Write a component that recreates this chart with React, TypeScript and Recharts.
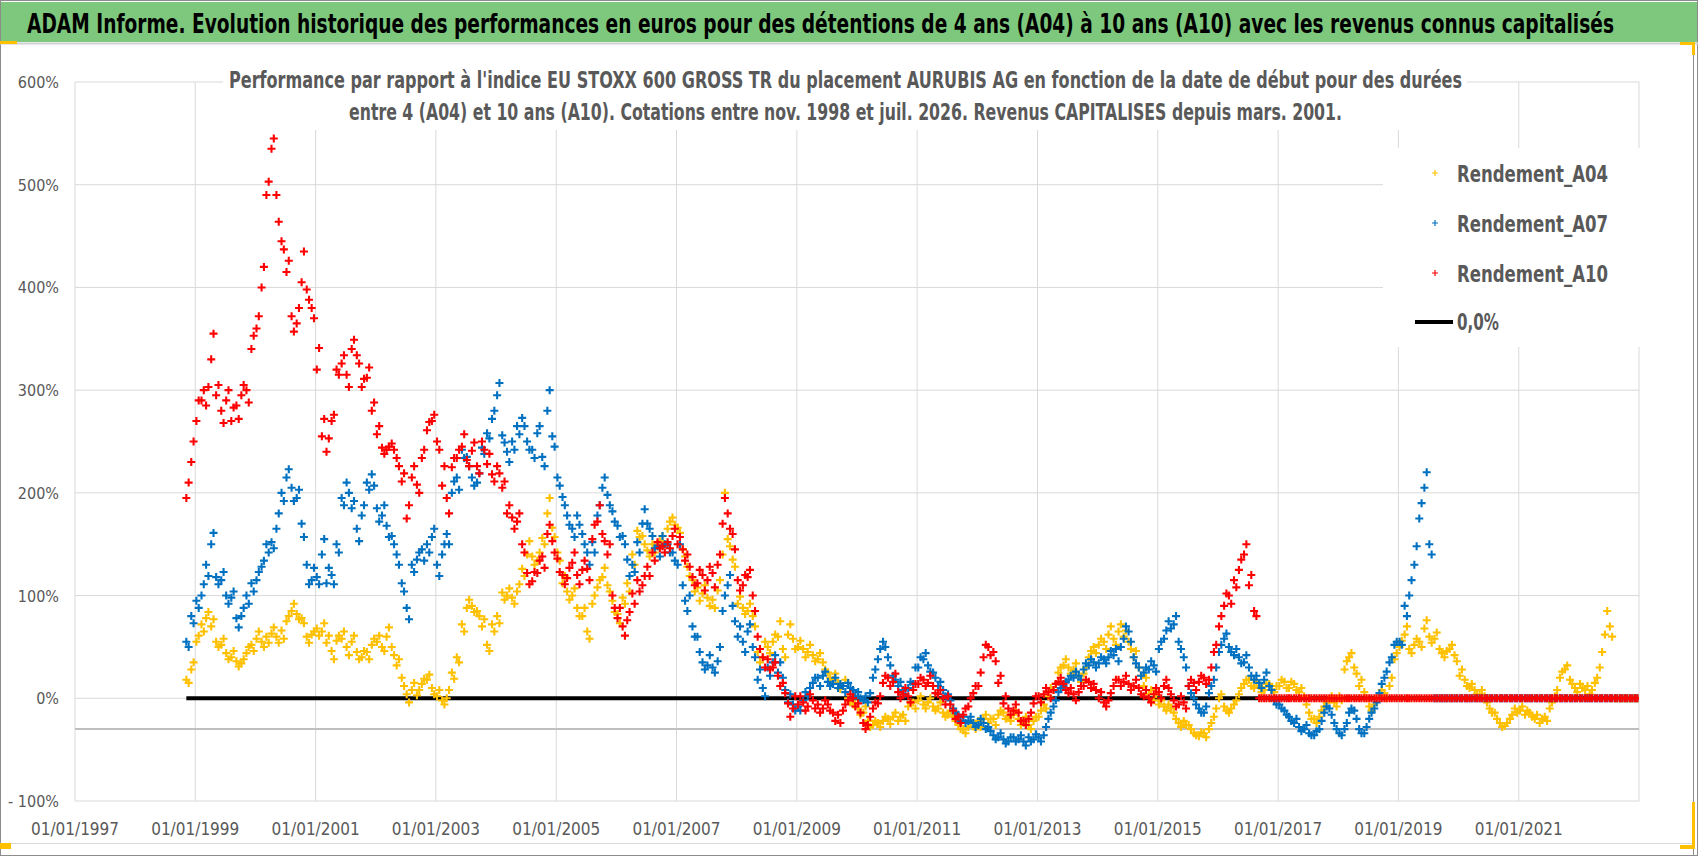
import React from "react";
import {
  ScatterChart,
  Scatter,
  XAxis,
  YAxis,
  CartesianGrid,
  ReferenceLine,
} from "recharts";

// Rendements (en %), deux lectures par mois
// (début et fin de mois) depuis nov. 1998 jusqu'à déc. 2022.
// Les 0 en fin de série : durée pas encore écoulée.
const rendementA04 = [
  18, 28,
  55, 72, 78, 70, 55, 52, 44, 40, 36, 34, 44, 52, // 1999
  58, 55, 60, 63, 60, 66, 75, 85, 82, 78, 60, 62, // 2000
  68, 65, 54, 46, 56, 58, 50, 55, 45, 40, 45, 52, // 2001
  55, 50, 60, 50, 32, 20, 4, 8, 3, 14, 18, 10, // 2002
  2, -2, 0, 25, 40, 72, 88, 90, 85, 70, 52, 72, // 2003
  80, 103, 100, 98, 104, 126, 140, 138, 134, 156, 180, 166, // 2004
  142, 112, 104, 100, 88, 80, 65, 92, 108, 118, 110, 95, // 2005
  82, 98, 112, 140, 163, 158, 144, 150, 148, 158, 165, 176, // 2006
  166, 145, 128, 115, 108, 102, 98, 96, 105, 140, 155, 135, // 2007
  92, 88, 85, 80, 45, 40, 50, 55, 60, 48, 62, 58, // 2008
  50, 48, 45, 42, 38, 35, 25, 18, 15, 12, 0, -6, // 2009
  -10, -14, -22, -26, -24, -22, -20, -18, -22, -16, -8, -4, // 2010
  -2, -6, -4, -8, -10, -14, -16, -18, -26, -30, -28, -24, // 2011
  -22, -20, -24, -20, -16, -14, -18, -16, -20, -24, -26, -22, // 2012
  -18, -6, 2, 8, 25, 32, 30, 28, 22, 24, 40, 50, // 2013
  52, 55, 62, 58, 65, 60, 55, 40, 30, 12, 4, -2, // 2014
  -6, -8, -6, -14, -24, -22, -26, -34, -37, -34, -30, -18, // 2015
  0, -8, -14, -6, 4, 14, 18, 10, 12, 8, 14, 6, // 2016
  12, 16, 10, 14, 6, 2, -14, -20, -18, -8, -2, -4, // 2017
  2, 28, 40, 30, 12, 6, -8, -6, 2, 5, 12, 38, // 2018
  50, 62, 48, 52, 55, 68, 60, 58, 48, 40, 48, 42, // 2019
  22, 18, 10, 8, 4, 2, -10, -14, -24, -27, -20, -10, // 2020
  -12, -16, -14, -20, -24, -18, -10, 2, 20, 28, 18, 10, // 2021
  14, 8, 4, 15, 30, 62, 70, 0, 0, 0, 0, 0, // 2022
];
const rendementA04Fin = [
  15, 35,
  61, 65, 84, 77, 50, 58, 38, 46, 31, 38, 50, 46, // 1999
  65, 50, 54, 69, 54, 58, 80, 92, 77, 73, 54, 65, // 2000
  61, 73, 61, 38, 61, 65, 42, 61, 38, 46, 38, 58, // 2001
  61, 46, 69, 42, 38, 12, -4, 15, 8, 19, 23, 4, // 2002
  8, -6, 8, 19, 35, 65, 96, 84, 80, 77, 46, 65, // 2003
  73, 96, 107, 92, 111, 119, 153, 130, 142, 150, 195, 157, // 2004
  134, 119, 96, 107, 80, 88, 58, 100, 115, 127, 104, 84, // 2005
  73, 92, 104, 130, 157, 150, 138, 142, 153, 150, 172, 169, // 2006
  161, 138, 119, 104, 95, 110, 90, 88, 115, 200, 148, 128, // 2007
  99, 82, 92, 70, 35, 55, 44, 62, 75, 40, 72, 48, // 2008
  56, 40, 52, 36, 44, 28, 20, 24, 9, 18, -4, 0, // 2009
  -16, -8, -28, -22, -28, -18, -25, -14, -18, -22, -4, -10, // 2010
  2, -10, 0, -12, -4, -18, -12, -22, -30, -34, -24, -30, // 2011
  -28, -16, -20, -26, -12, -20, -22, -12, -26, -18, -30, -18, // 2012
  -12, -10, 10, 14, 30, 38, 24, 34, 16, 30, 46, 44, // 2013
  58, 48, 70, 52, 72, 66, 48, 46, 22, 20, 8, 4, // 2014
  -2, -12, -10, -20, -28, -26, -30, -36, -33, -38, -24, -10, // 2015
  4, -12, -10, -2, 10, 18, 12, 16, 6, 14, 8, 12, // 2016
  18, 10, 16, 8, 10, -6, -20, -24, -12, -4, 2, -8, // 2017
  -2, 36, 44, 24, 18, 0, -12, 0, 8, 0, 20, 44, // 2018
  56, 70, 44, 58, 50, 76, 54, 64, 44, 46, 52, 36, // 2019
  28, 12, 14, 4, 8, -4, -14, -20, -28, -24, -16, -14, // 2020
  -8, -12, -18, -16, -20, -22, -4, 8, 26, 32, 14, 6, // 2021
  10, 12, 8, 20, 45, 85, 60, 0, 0, 0, 0, 0, // 2022
];

const rendementA07 = [
  55, 80,
  95, 100, 130, 150, 118, 115, 100, 98, 78, 80, 100, 112, // 1999
  115, 128, 150, 152, 165, 200, 215, 205, 195, 170, 130, 115, // 2000
  118, 140, 112, 120, 150, 195, 210, 185, 165, 178, 210, 218, // 2001
  185, 178, 168, 158, 140, 112, 88, 130, 135, 145, 150, 157, // 2002
  130, 140, 160, 200, 215, 242, 235, 215, 210, 244, 258, 272, // 2003
  295, 256, 240, 250, 265, 273, 250, 242, 258, 235, 280, 255, // 2004
  215, 196, 178, 165, 178, 160, 142, 152, 178, 205, 198, 182, // 2005
  168, 158, 135, 130, 152, 170, 170, 158, 148, 158, 150, 142, // 2006
  130, 110, 85, 70, 60, 35, 32, 30, 36, 85, 110, 90, // 2007
  60, 55, 65, 50, 18, 10, 30, 35, 25, 20, -4, -6, // 2008
  -8, -2, 2, 15, 20, 22, 16, 14, 10, 12, 15, 8, // 2009
  6, -2, -4, 20, 38, 55, 40, 22, 12, 8, 10, 14, // 2010
  30, 38, 32, 25, 12, 8, 4, -10, -16, -18, -22, -24, // 2011
  -26, -24, -28, -36, -38, -40, -42, -38, -40, -42, -38, -40, // 2012
  -38, -36, -20, -8, 6, 12, 18, 20, 22, 28, 32, 35, // 2013
  34, 38, 40, 42, 36, 58, 65, 40, 30, 25, 28, 32, // 2014
  48, 58, 75, 72, 55, 40, 12, 0, -10, -14, 5, 18, // 2015
  45, 58, 50, 42, 40, 35, 30, 18, 15, 18, 12, -2, // 2016
  -6, -12, -18, -24, -28, -30, -34, -36, -30, -14, -10, -24, // 2017
  -34, -30, -14, -12, -30, -34, -20, -10, 5, 20, 35, 52, // 2018
  55, 90, 100, 130, 175, 205, 150, 0, 0, 0, 0, 0, // 2019
  0, 0, 0, 0, 0, 0, 0, 0, 0, 0, 0, 0, // 2020
  0, 0, 0, 0, 0, 0, 0, 0, 0, 0, 0, 0, // 2021
  0, 0, 0, 0, 0, 0, 0, 0, 0, 0, 0, 0, // 2022
];
const rendementA07Fin = [
  50, 73,
  88, 111, 119, 161, 111, 123, 92, 104, 69, 88, 92, 104, // 1999
  123, 134, 142, 146, 180, 192, 223, 192, 203, 157, 111, 127, // 2000
  111, 155, 127, 111, 142, 188, 200, 192, 153, 188, 203, 207, // 2001
  172, 188, 157, 150, 130, 104, 77, 123, 142, 134, 142, 165, // 2002
  119, 150, 150, 211, 203, 234, 226, 207, 219, 238, 253, 280, // 2003
  307, 249, 230, 242, 257, 265, 242, 234, 265, 226, 300, 245, // 2004
  207, 188, 169, 157, 169, 150, 130, 142, 188, 215, 188, 172, // 2005
  157, 150, 119, 123, 142, 184, 165, 146, 138, 150, 142, 134, // 2006
  150, 95, 100, 60, 45, 28, 42, 25, 50, 100, 120, 75, // 2007
  70, 45, 72, 40, 28, 2, 22, 42, 35, 8, 4, -12, // 2008
  -12, 6, 10, 20, 12, 26, 12, 20, 14, 6, 10, 2, // 2009
  0, 2, 5, 28, 48, 50, 32, 18, 16, 4, 16, 30, // 2010
  40, 44, 26, 20, 16, 2, -2, -14, -22, -24, -18, -28, // 2011
  -20, -30, -32, -40, -34, -44, -38, -42, -36, -46, -42, -35, // 2012
  -42, -28, -14, -2, 10, 16, 22, 26, 18, 34, 38, 30, // 2013
  40, 34, 46, 48, 50, 70, 55, 34, 22, 30, 36, 26, // 2014
  55, 66, 68, 80, 48, 30, 5, -6, -14, -8, 12, 30, // 2015
  52, 63, 45, 48, 34, 42, 22, 22, 10, 25, 8, -6, // 2016
  -10, -16, -22, -20, -32, -26, -36, -32, -22, -8, -16, -30, // 2017
  -36, -24, -10, -20, -34, -28, -14, -4, 14, 26, 40, 55, // 2018
  52, 80, 115, 148, 190, 220, 140, 0, 0, 0, 0, 0, // 2019
  0, 0, 0, 0, 0, 0, 0, 0, 0, 0, 0, 0, // 2020
  0, 0, 0, 0, 0, 0, 0, 0, 0, 0, 0, 0, // 2021
  0, 0, 0, 0, 0, 0, 0, 0, 0, 0, 0, 0, // 2022
];

const rendementA10 = [
  195, 230,
  270, 290, 285, 330, 295, 280, 290, 270, 285, 295, 300, 340, // 1999
  360, 400, 490, 535, 490, 445, 415, 372, 365, 405, 398, 380, // 2000
  320, 255, 240, 270, 320, 326, 315, 340, 334, 303, 312, 280, // 2001
  257, 244, 242, 248, 234, 211, 175, 215, 208, 234, 261, 270, // 2002
  250, 207, 195, 225, 234, 245, 232, 241, 226, 250, 228, 218, // 2003
  226, 205, 180, 176, 172, 150, 122, 114, 122, 138, 160, 153, // 2004
  136, 120, 117, 132, 120, 125, 126, 155, 172, 160, 140, 100, // 2005
  78, 70, 76, 102, 115, 110, 128, 142, 152, 148, 152, 158, // 2006
  150, 145, 140, 118, 112, 120, 115, 122, 130, 170, 180, 160, // 2007
  115, 110, 118, 100, 60, 40, 38, 30, 22, 15, -5, -10, // 2008
  -6, -4, -8, -2, -6, -10, -6, -14, -16, -12, -2, 0, // 2009
  -5, -24, -26, -10, -5, 15, 20, 16, 6, 4, 2, 8, // 2010
  14, 18, 15, 12, 4, 0, 2, -12, -18, -16, -8, 5, // 2011
  12, 40, 50, 45, 15, -5, -10, -12, -14, -22, -20, -5, // 2012
  2, 4, 6, 8, 16, 14, 5, 4, 6, 12, 16, 14, // 2013
  0, -4, -2, 12, 18, 16, 14, 12, 10, 2, 0, 4, // 2014
  6, 12, 10, -2, -6, -4, 12, 15, 16, 20, 18, 45, // 2015
  70, 90, 100, 115, 125, 140, 110, 85, 0, 0, 0, 0, // 2016
  0, 0, 0, 0, 0, 0, 0, 0, 0, 0, 0, 0, // 2017
  0, 0, 0, 0, 0, 0, 0, 0, 0, 0, 0, 0, // 2018
  0, 0, 0, 0, 0, 0, 0, 0, 0, 0, 0, 0, // 2019
  0, 0, 0, 0, 0, 0, 0, 0, 0, 0, 0, 0, // 2020
  0, 0, 0, 0, 0, 0, 0, 0, 0, 0, 0, 0, // 2021
  0, 0, 0, 0, 0, 0, 0, 0, 0, 0, 0, 0, // 2022
];
const rendementA10Fin = [
  210, 250,
  290, 300, 303, 355, 305, 268, 300, 283, 272, 305, 288, 353, // 1999
  372, 420, 503, 545, 464, 437, 426, 357, 380, 435, 388, 370, // 2000
  341, 272, 253, 276, 315, 334, 303, 349, 326, 311, 322, 288, // 2001
  265, 238, 245, 242, 226, 219, 188, 226, 200, 242, 269, 276, // 2002
  242, 226, 180, 234, 242, 257, 226, 249, 219, 242, 238, 211, // 2003
  219, 211, 188, 165, 180, 142, 111, 123, 134, 127, 169, 142, // 2004
  123, 111, 127, 142, 111, 134, 115, 169, 188, 153, 150, 88, // 2005
  88, 61, 84, 92, 104, 119, 119, 134, 146, 142, 146, 165, // 2006
  157, 134, 128, 110, 125, 105, 128, 108, 140, 195, 165, 145, // 2007
  105, 120, 125, 85, 48, 30, 28, 35, 12, 5, -18, 2, // 2008
  2, -12, 4, -10, -14, -2, -12, -22, -24, -6, 4, -8, // 2009
  -14, -30, -18, -4, 2, 22, 12, 24, 0, 10, -4, 14, // 2010
  20, 12, 22, 5, 8, -6, -6, -20, -24, -10, 0, 12, // 2011
  25, 52, 42, 36, 22, 2, -16, -6, -22, -26, -14, 2, // 2012
  -4, 10, 0, 14, 20, 8, 10, -2, 12, 18, 10, 8, // 2013
  6, -8, 5, 18, 12, 22, 8, 18, 4, 8, -4, 10, // 2014
  0, 18, 4, -8, 2, -10, 18, 8, 22, 14, 30, 52, // 2015
  80, 102, 92, 108, 135, 150, 120, 80, 0, 0, 0, 0, // 2016
  0, 0, 0, 0, 0, 0, 0, 0, 0, 0, 0, 0, // 2017
  0, 0, 0, 0, 0, 0, 0, 0, 0, 0, 0, 0, // 2018
  0, 0, 0, 0, 0, 0, 0, 0, 0, 0, 0, 0, // 2019
  0, 0, 0, 0, 0, 0, 0, 0, 0, 0, 0, 0, // 2020
  0, 0, 0, 0, 0, 0, 0, 0, 0, 0, 0, 0, // 2021
  0, 0, 0, 0, 0, 0, 0, 0, 0, 0, 0, 0, // 2022
];

const xTickYears = [1997, 1999, 2001, 2003, 2005, 2007, 2009, 2011, 2013, 2015, 2017, 2019, 2021];
const yTicks = [-100, 0, 100, 200, 300, 400, 500, 600];

const seriesNames = ["Rendement_A04", "Rendement_A07", "Rendement_A10"];
const seriesColors = ["#FFC000", "#0070C0", "#FF0000"];

const FONT = "'Liberation Sans Narrow', 'DejaVu Sans Condensed', 'Open Sans', sans-serif";
const GREY_TEXT = "#595959";

// lecture de début de mois le 8, de fin de mois le 22 (depuis nov. 1998)
const toPoints = (debut: number[], fin: number[]) =>
  debut.flatMap((y, i) => [
    { x: Date.UTC(1998, 10 + i, 8), y },
    { x: Date.UTC(1998, 10 + i, 22), y: fin[i] },
  ]);

const X_MIN = Date.UTC(1997, 0, 1);
const X_MAX = Date.UTC(2023, 0, 1);

const zeroLine = [
  { x: Date.UTC(1998, 10, 8), y: 0 },
  { x: Date.UTC(1998, 10 + rendementA04.length - 1, 22), y: 0 },
];

const plus = (color: string) => (props: any) => {
  const { cx, cy } = props;
  if (cx == null || cy == null) return <g />;
  return (
    <path
      d={`M${cx - 4},${cy}H${cx + 4}M${cx},${cy - 4}V${cy + 4}`}
      stroke={color}
      strokeWidth={2.1}
      fill="none"
    />
  );
};

const fmtPct = (v: number) => (v < 0 ? `- ${Math.abs(v)}%` : `${v}%`);
const fmtDate = (t: number) => `01/01/${new Date(t).getUTCFullYear()}`;

const YTick = (p: any) => (
  <text x={59} y={p.y + 6} textAnchor="end" fontFamily={FONT} fontSize={16} fill={GREY_TEXT}>
    {fmtPct(p.payload.value)}
  </text>
);

const XTick = (p: any) => (
  <text x={p.x} y={835} textAnchor="middle" fontFamily={FONT} fontSize={17} fill={GREY_TEXT}>
    {fmtDate(p.payload.value)}
  </text>
);

// texte étiré à une largeur donnée, un peu agrandi verticalement
const Stretched = ({ x, y, width, size, sy, color, children }: any) => (
  <g transform={`translate(${x},${y}) scale(1,${sy})`}>
    <text
      x={0}
      y={0}
      fontFamily={FONT}
      fontWeight="bold"
      fontSize={size}
      fill={color}
      textLength={width}
      lengthAdjust="spacingAndGlyphs"
    >
      {children}
    </text>
  </g>
);

export default function App() {
  const title =
    "ADAM Informe. Evolution historique des performances en euros pour des détentions de 4 ans (A04) à 10 ans (A10) avec les revenus connus capitalisés";
  const sub1 =
    "Performance par rapport à l'indice EU STOXX 600 GROSS TR  du placement AURUBIS AG en fonction de la date de début pour des durées";
  const sub2 =
    "entre 4 (A04) et 10 ans (A10). Cotations entre nov. 1998 et juil. 2026. Revenus CAPITALISES depuis mars. 2001.";
  const legendRows = [182, 232, 282];

  return (
    <div style={{ position: "fixed", left: 0, top: 0, width: 1698, height: 856, background: "#fff" }}>
      <ScatterChart width={1698} height={856} margin={{ top: 82, right: 59, bottom: 0, left: 0 }}>
        <CartesianGrid stroke="#d9d9d9" strokeWidth={1} />
        <XAxis
          dataKey="x"
          type="number"
          domain={[X_MIN, X_MAX]}
          ticks={xTickYears.map((y) => Date.UTC(y, 0, 1))}
          allowDataOverflow
          height={55}
          axisLine={false}
          tickLine={false}
          tick={XTick}
        />
        <YAxis
          dataKey="y"
          type="number"
          domain={[-100, 600]}
          ticks={yTicks}
          width={75}
          axisLine={false}
          tickLine={false}
          tick={YTick}
        />
        <ReferenceLine y={-30} stroke="#bfbfbf" strokeWidth={2} />
        <Scatter
          data={zeroLine}
          line={{ stroke: "#000", strokeWidth: 4 }}
          shape={() => <g />}
          isAnimationActive={false}
        />
        <Scatter
          data={toPoints(rendementA04, rendementA04Fin)}
          shape={plus(seriesColors[0])}
          isAnimationActive={false}
        />
        <Scatter
          data={toPoints(rendementA07, rendementA07Fin)}
          shape={plus(seriesColors[1])}
          isAnimationActive={false}
        />
        <Scatter
          data={toPoints(rendementA10, rendementA10Fin)}
          shape={plus(seriesColors[2])}
          isAnimationActive={false}
        />
      </ScatterChart>

      <svg
        width={1698}
        height={856}
        style={{ position: "absolute", left: 0, top: 0, pointerEvents: "none" }}
      >
        {/* cadre */}
        <rect x={0.5} y={0.5} width={1697} height={855} fill="none" stroke="#8c8c8c" />
        <line x1={1693.5} y1={44} x2={1693.5} y2={856} stroke="#8c8c8c" />
        <line x1={0} y1={843.5} x2={1693} y2={843.5} stroke="#d9d9d9" />
        {/* bandeau */}
        <rect x={1} y={2} width={1696} height={40} fill="#7DC87D" />
        <line x1={0} y1={43.5} x2={1698} y2={43.5} stroke="#d0d0d0" strokeWidth={2} />
        <Stretched x={27} y={33} width={1587} size={21.5} sy={1.21} color="#000">
          {title}
        </Stretched>
        {/* poignées */}
        <rect x={0} y={41} width={17} height={3} fill="#FFC000" />
        <rect x={1680} y={42} width={15} height={3} fill="#FFC000" />
        <rect x={1692} y={42} width={3} height={13} fill="#FFC000" />
        <rect x={1692} y={802} width={3} height={47} fill="#FFC000" />
        <rect x={1680} y={845} width={15} height={4} fill="#FFC000" />
        <rect x={0} y={843} width={11} height={6} fill="#FFC000" />
        {/* sous-titre */}
        <rect x={223} y={62} width={1244} height={68} fill="#fff" />
        <Stretched x={229} y={88} width={1233} size={19} sy={1.21} color={GREY_TEXT}>
          {sub1}
        </Stretched>
        <Stretched x={349} y={120} width={993} size={19} sy={1.21} color={GREY_TEXT}>
          {sub2}
        </Stretched>
        {/* légende */}
        <rect x={1383} y={148} width={257} height={199} fill="#fff" />
        {seriesNames.map((name, i) => (
          <g key={name}>
            <path
              d={`M1432,${legendRows[i] - 9}H1438M1435,${legendRows[i] - 12}V${legendRows[i] - 6}`}
              stroke={seriesColors[i]}
              strokeWidth={1.2}
            />
            <Stretched x={1457} y={legendRows[i]} width={151} size={20} sy={1.15} color={GREY_TEXT}>
              {name}
            </Stretched>
          </g>
        ))}
        <line x1={1415} y1={322} x2={1453} y2={322} stroke="#000" strokeWidth={4} />
        <Stretched x={1457} y={330} width={42} size={20} sy={1.15} color={GREY_TEXT}>
          0,0%
        </Stretched>
      </svg>
    </div>
  );
}
